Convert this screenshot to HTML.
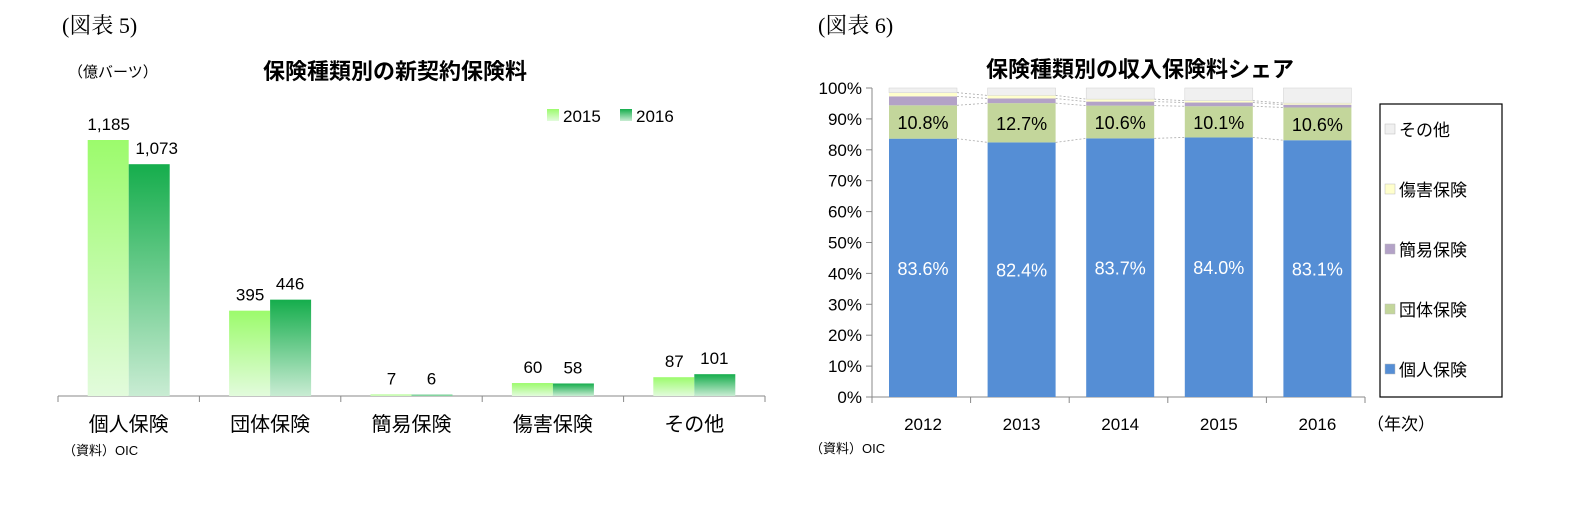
<!DOCTYPE html>
<html><head><meta charset="utf-8">
<style>
body{margin:0;background:#fff;}
svg text{font-family:"Liberation Sans","Noto Sans CJK JP",sans-serif;}
.serif{font-family:"Liberation Serif","Noto Serif CJK SC",serif;}
</style></head>
<body>
<svg width="1595" height="518" xmlns="http://www.w3.org/2000/svg">
<defs>
<linearGradient id="g15" x1="0" y1="0" x2="0" y2="1"><stop offset="0" stop-color="#9cfb6c"/><stop offset="1" stop-color="#e2fbdc"/></linearGradient>
<linearGradient id="g16" x1="0" y1="0" x2="0" y2="1"><stop offset="0" stop-color="#15ad4c"/><stop offset="1" stop-color="#c9ecd3"/></linearGradient>
</defs>
<text x="62" y="33" font-size="22" class="serif">(図表 5)</text>
<text x="68" y="77" font-size="15">（億バーツ）</text>
<text x="395" y="79" font-size="22" font-weight="bold" text-anchor="middle">保険種類別の新契約保険料</text>
<rect x="547" y="109" width="12" height="12" fill="url(#g15)"/>
<text x="563" y="122" font-size="17">2015</text>
<rect x="620" y="109" width="12" height="12" fill="url(#g16)"/>
<text x="636" y="122" font-size="17">2016</text>
<g id="left"></g>
<text x="63" y="455" font-size="13">（資料）OIC</text>

<text x="818" y="33" font-size="22" class="serif">(図表 6)</text>
<text x="1140" y="77" font-size="22" font-weight="bold" text-anchor="middle">保険種類別の収入保険料シェア</text>
<g id="right"></g>
<text x="1367" y="430" font-size="17">（年次）</text>
<text x="810" y="453" font-size="13">（資料）OIC</text>
</svg>
<script>
const cats=["個人保険","団体保険","簡易保険","傷害保険","その他"];
const v2015=[1185,395,7,60,87];
const v2016=[1073,446,6,58,101];
const v2015Labels=["1,185","395","7","60","87"];
const v2016Labels=["1,073","446","6","58","101"];

const years=["2012","2013","2014","2015","2016"];
const sIndiv=[83.6,82.4,83.7,84.0,83.1];
const sGroup=[10.8,12.7,10.6,10.1,10.6];
const sSimple=[2.9,1.5,1.3,1.2,0.9];
const sInjury=[1.2,1.0,0.8,0.6,0.5];
const sOther=[1.5,2.4,3.6,4.1,4.9];
const yTicks=[0,10,20,30,40,50,60,70,80,90,100];
const seriesNames=["その他","傷害保険","簡易保険","団体保険","個人保険"];

const NS="http://www.w3.org/2000/svg";
function mk(p,t,a,txt){const e=document.createElementNS(NS,t);for(const k in a)e.setAttribute(k,a[k]);if(txt!==undefined)e.textContent=txt;p.appendChild(e);return e;}

// left chart
const L=document.getElementById('left');
const base=396, lx0=58, lx1=765;
const ly=v=>base-v*256/1185;
const cw=(lx1-lx0)/cats.length;
let ax=mk(L,'line',{x1:lx0,y1:base,x2:lx1,y2:base,stroke:'#888'});

for(let i=0;i<=cats.length;i++){let t=mk(L,'line',{x1:lx0+i*cw,y1:base,x2:lx0+i*cw,y2:base+6,stroke:'#888'});
}
cats.forEach((c,i)=>{
 const cx=lx0+cw*(i+0.5);
 let b1=mk(L,'rect',{x:cx-41,y:ly(v2015[i]),width:41,height:base-ly(v2015[i]),fill:'url(#g15)'});
 
 let b2=mk(L,'rect',{x:cx,y:ly(v2016[i]),width:41,height:base-ly(v2016[i]),fill:'url(#g16)'});
 
 let t1=mk(L,'text',{x:cx-20,y:ly(v2015[i])-10,'font-size':17,'text-anchor':'middle'},v2015Labels[i]);
 
 let t2=mk(L,'text',{x:cx+(i==0?28:20),y:ly(v2016[i])-10,'font-size':17,'text-anchor':'middle'},v2016Labels[i]);
 
 let tc=mk(L,'text',{x:cx,y:431,'font-size':20,'text-anchor':'middle'},c);
 
});

// right chart
const R=document.getElementById('right');
const ry0=397, ry100=88, rx0=872, rx1=1365;
const ry=v=>ry0-(ry0-ry100)*v/100;
const step=98.6, bw=68, first=889;
let yax=mk(R,'line',{x1:rx0,y1:ry100,x2:rx0,y2:ry0,stroke:'#888'});

let xax=mk(R,'line',{x1:rx0,y1:ry0,x2:rx1,y2:ry0,stroke:'#888'});

yTicks.forEach(t=>{
 let tk=mk(R,'line',{x1:rx0-6,y1:ry(t),x2:rx0,y2:ry(t),stroke:'#888'});
 
 let tl=mk(R,'text',{x:rx0-10,y:ry(t)+6,'font-size':17,'text-anchor':'end'},t+'%');
 
});
for(let i=0;i<=years.length;i++){const x=rx0+i*step;
 let tk=mk(R,'line',{x1:x,y1:ry0,x2:x,y2:ry0+6,stroke:'#888'});
 }
const series=[[sIndiv,'#558ed5'],[sGroup,'#c3d69b'],[sSimple,'#b3a2c7'],[sInjury,'#ffffcc'],[sOther,'#f0f0f0']];
const sn=['individual','group','simple','injury','other'];
// connector lines
for(let i=0;i<years.length-1;i++){
 let c1=0,c2=0;
 series.forEach((s,k)=>{
  c1+=s[0][i];c2+=s[0][i+1];
  if(k<4){let ln=mk(R,'line',{x1:first+i*step+bw,y1:ry(c1),x2:first+(i+1)*step,y2:ry(c2),stroke:'#aaa','stroke-width':0.8,'stroke-dasharray':'2,2'});
  }
 });
}
years.forEach((y,i)=>{
 const x=first+i*step;
 let cum=0;
 series.forEach((s,k)=>{
  const v=s[0][i];
  let r=mk(R,'rect',{x:x,y:ry(cum+v),width:bw,height:ry(cum)-ry(cum+v),fill:s[1],stroke:k==4?'#d0d0d0':'none','stroke-width':0.5});
  
  cum+=v;
 });
 let l1=mk(R,'text',{x:x+bw/2,y:ry(sIndiv[i]/2)+7,'font-size':18,fill:'#fff','text-anchor':'middle'},sIndiv[i].toFixed(1)+'%');
 
 let l2=mk(R,'text',{x:x+bw/2,y:ry(sIndiv[i]+sGroup[i]/2)+7,'font-size':18,'text-anchor':'middle'},sGroup[i].toFixed(1)+'%');
 
 let yl=mk(R,'text',{x:x+bw/2,y:430,'font-size':17,'text-anchor':'middle'},y);
 
});
// legend
let lb=mk(R,'rect',{x:1380,y:104,width:122,height:293,fill:'#fff',stroke:'#000','stroke-width':1.2});

const legCols=['#f0f0f0','#ffffcc','#b3a2c7','#c3d69b','#558ed5'];
seriesNames.forEach((n,k)=>{
 const yy=130+k*60;
 let sw=mk(R,'rect',{x:1385,y:yy-6,width:10,height:10,fill:legCols[k],stroke:'#bbb','stroke-width':0.5});
 
 let t=mk(R,'text',{x:1399,y:yy+6,'font-size':17},n);
 
});
</script>
</body></html>
